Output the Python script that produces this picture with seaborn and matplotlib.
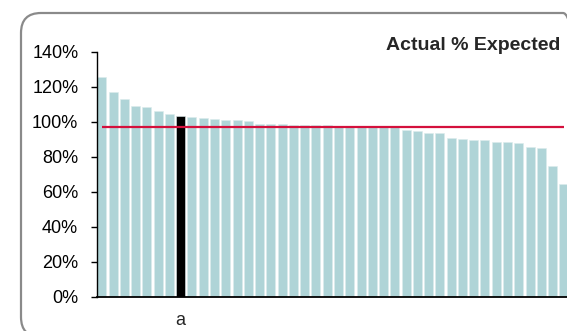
import numpy as np
import pandas as pd
import seaborn as sns
import matplotlib.pyplot as plt
from matplotlib.patches import FancyBboxPatch
from matplotlib.transforms import IdentityTransform
from matplotlib.ticker import FuncFormatter

# --------------------------------------------------
# DATA
# --------------------------------------------------

units = ["u01", "u02", "u03", "u04", "u05", "u06", "u07", "a", "u09", "u10",
         "u11", "u12", "u13", "u14", "u15", "u16", "u17", "u18", "u19", "u20",
         "u21", "u22", "u23", "u24", "u25", "u26", "u27", "u28", "u29", "u30",
         "u31", "u32", "u33", "u34", "u35", "u36", "u37", "u38", "u39", "u40",
         "u41", "u42"]

actual_pct = [125.4, 116.8, 112.8, 108.8, 108.4, 106.1, 104.4, 103.3, 102.5, 102.1,
              101.4, 100.8, 100.8, 100.2, 98.9, 98.9, 98.9, 98.1, 98.1, 98.1,
              98.1, 97.6, 97.5, 97.5, 97.4, 97.3, 97.3, 95.4, 94.5, 93.4,
              93.4, 90.5, 90.1, 89.7, 89.4, 88.6, 88.2, 87.8, 85.4, 85.0,
              74.7, 64.4]

expected_line = 97.1
highlight = "a"

# --------------------------------------------------
# STYLE
# --------------------------------------------------

sns.set_style("white")
plt.rcParams["font.family"] = ["Liberation Sans", "DejaVu Sans"]

bar_color = "#AFD4D7"
hi_color = "#000000"
line_color = "#D4103C"

df = pd.DataFrame({"unit": units, "pct": actual_pct})
palette = {u: (hi_color if u == highlight else bar_color) for u in units}

fig = plt.figure(figsize=(5.67, 3.31), dpi=100)
ax = fig.add_axes([97 / 567, 34.3 / 331, 1 - 97 / 567, 245 / 331])

sns.barplot(data=df, x="unit", y="pct", hue="unit", palette=palette,
            legend=False, width=0.8, saturation=1, ax=ax,
            edgecolor="#DCEBEC", linewidth=0.4)

ax.hlines(expected_line, 0, len(units) - 1, color=line_color, lw=1.6, zorder=5)

ax.set_ylim(0, 140)
ax.set_xlim(-0.43, 41.28)
ax.set_yticks(np.arange(0, 141, 20))
ax.yaxis.set_major_formatter(FuncFormatter(lambda v, p: f"{v:.0f}%"))
ax.tick_params(axis="y", left=True, length=4.5, width=1, pad=9,
               labelsize=13, colors="black")

idx = units.index(highlight)
ax.set_xticks([idx])
ax.set_xticklabels([highlight])
ax.tick_params(axis="x", length=0, pad=11, labelsize=13)
ax.set_xlabel("")
ax.set_ylabel("")

for s in ["top", "right"]:
    ax.spines[s].set_visible(False)
ax.spines["left"].set_color("black")
ax.spines["left"].set_linewidth(1)
ax.spines["bottom"].set_color("black")
ax.spines["bottom"].set_linewidth(1.3)

fig.text(560 / 567, 1 - 45 / 331, "Actual % Expected", ha="right", va="center",
         fontsize=14, fontweight="bold")

# rounded frame around the chart (partly off-canvas), in pixel units
frame = FancyBboxPatch((21, -6), 562, 324,
                       boxstyle="round,pad=0,rounding_size=20",
                       transform=IdentityTransform(), fill=False,
                       edgecolor="#8A8A8A", lw=1.6, clip_on=False)
fig.patches.append(frame)

plt.savefig("out.png", dpi=100)
